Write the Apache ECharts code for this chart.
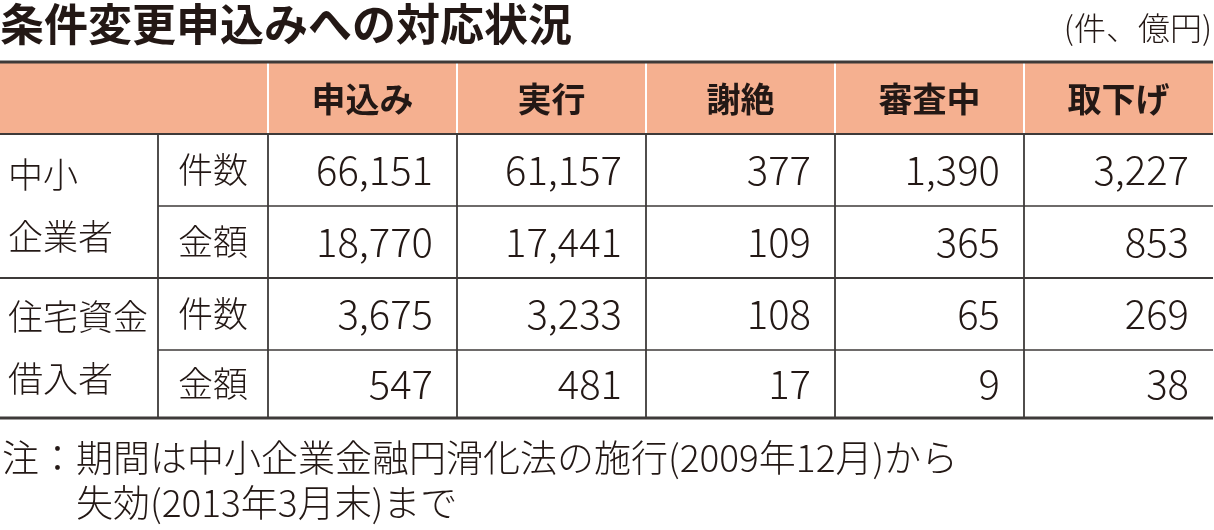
<!DOCTYPE html><html><head><meta charset="utf-8"><script src="https://cdn.jsdelivr.net/npm/echarts@6/dist/echarts.min.js"></script>
<style>body{margin:0}#c{width:1214px;height:530px}</style></head><body><div id="c"></div><script>
const title='条件変更申込みへの対応状況';
const unit='(件、億円)';
const headers=['申込み','実行','謝絶','審査中','取下げ'];
const groups=[['中小','企業者'],['住宅資金','借入者']];
const subs=['件数','金額'];
const rowsData=[
 ['66,151','61,157','377','1,390','3,227'],
 ['18,770','17,441','109','365','853'],
 ['3,675','3,233','108','65','269'],
 ['547','481','17','9','38']];
const notes=['注：期間は中小企業金融円滑化法の施行(2009年12月)から','失効(2013年3月末)まで'];
const xs=[0,158,268,457,646,835,1024,1213];
const ys=[62,134,206,278,350,418];
const F='"Noto Sans CJK JP","Noto Sans",sans-serif';
const C='#231815', L='#3e3a39';
const g=[];
g.push({type:'rect',shape:{x:0,y:ys[0],width:1213,height:ys[1]-ys[0]},style:{fill:'#f5b090'}});
function line(x1,y1,x2,y2,w,c){g.push({type:'line',shape:{x1,y1,x2,y2},style:{stroke:c||L,lineWidth:w||1.5}});}
for(let i=2;i<7;i++) line(xs[i],ys[0],xs[i],ys[1],2,'#fff');
for(let i=1;i<7;i++) line(xs[i],ys[1],xs[i],ys[5],1.8);
line(0,ys[0],1213,ys[0],3);line(0,ys[1],1213,ys[1],2);line(xs[1],ys[2],1213,ys[2],1.5);
line(0,ys[3],1213,ys[3],2);line(xs[1],ys[4],1213,ys[4],1.5);line(0,ys[5],1213,ys[5],3);
function txt(t,x,y,o){g.push({type:'text',x,y,style:Object.assign({text:t,font:'300 36px '+F,fill:C,verticalAlign:'middle',align:'left'},o||{})});}
txt(title,0,24,{font:'bold 44px '+F});
txt(unit,1212,28,{font:'300 32px '+F,align:'right'});
headers.forEach((h,i)=>txt(h,(xs[i+2]+xs[i+3])/2,99,{font:'bold 34px '+F,align:'center'}));
groups.forEach((gr,k)=>{const y0=ys[k*2+1],y1=ys[k*2+3],m=(y0+y1)/2;txt(gr[0],8,m-31,{font:'300 35px '+F});txt(gr[1],8,m+31,{font:'300 35px '+F});});
rowsData.forEach((r,j)=>{const m=(ys[j+1]+ys[j+2])/2;txt(subs[j%2],(xs[1]+xs[2])/2,m,{font:'300 35px '+F,align:'center'});
 r.forEach((v,i)=>txt(v,xs[i+3]-24,m,{font:'300 40px '+F,align:'right'}));});
txt(notes[0],2,458,{font:'300 37px '+F});txt(notes[1],76,503,{font:'300 37px '+F});
const ch=echarts.init(document.getElementById('c'));
ch.setOption({backgroundColor:'#fff',graphic:g});
</script></body></html>
